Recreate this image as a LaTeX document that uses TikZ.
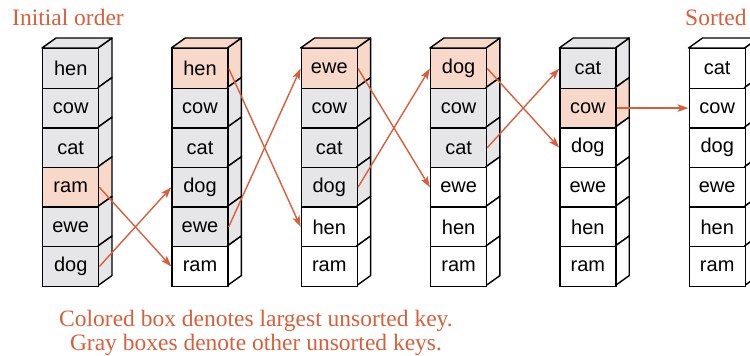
\documentclass[tikz,border=0pt]{standalone}
\usepackage{fontspec}
\setmainfont{Liberation Serif}
\newfontfamily\boxfont{Liberation Sans}
\usetikzlibrary{arrows.meta}
\definecolor{accent}{RGB}{217,95,59}
\definecolor{pinkfill}{RGB}{248,216,200}
\definecolor{grayfill}{RGB}{230,230,232}
\begin{document}
\begin{tikzpicture}[x=1pt,y=-1pt,
  keybox/.style={draw=black, line width=1.4pt, minimum width=56pt, minimum height=39.6pt,
    inner sep=0pt, font=\boxfont\fontsize{20}{20}\selectfont, anchor=north west},
  face/.style={draw=black, line width=1.4pt, line join=round},
  arr/.style={draw=accent, line width=1.4pt, -{Stealth[length=11pt,width=7.5pt,inset=2.5pt]}},
  caption/.style={text=accent, font=\fontsize{23.5}{27}\selectfont, inner sep=0pt}]
\useasboundingbox (0,0) rectangle (750,356);
\clip (0,0) rectangle (750,356);
% boxes
\foreach \c/\r/\t/\f in {
  1/0/hen/grayfill, 1/1/cow/grayfill, 1/2/cat/grayfill, 1/3/ram/pinkfill, 1/4/ewe/grayfill, 1/5/dog/grayfill,
  2/0/hen/pinkfill, 2/1/cow/grayfill, 2/2/cat/grayfill, 2/3/dog/grayfill, 2/4/ewe/grayfill, 2/5/ram/white,
  3/0/ewe/pinkfill, 3/1/cow/grayfill, 3/2/cat/grayfill, 3/3/dog/grayfill, 3/4/hen/white, 3/5/ram/white,
  4/0/dog/pinkfill, 4/1/cow/grayfill, 4/2/cat/grayfill, 4/3/ewe/white, 4/4/hen/white, 4/5/ram/white,
  5/0/cat/grayfill, 5/1/cow/pinkfill, 5/2/dog/white, 5/3/ewe/white, 5/4/hen/white, 5/5/ram/white,
  6/0/cat/white, 6/1/cow/white, 6/2/dog/white, 6/3/ewe/white, 6/4/hen/white, 6/5/ram/white}
{
  \pgfmathsetmacro\bx{42+129.3*(\c-1)}
  \pgfmathsetmacro\by{48+39.6*\r}
  % side face
  \filldraw[face, fill=\f] (\bx+56,\by) -- ++(14,-10) -- ++(0,39.6) -- (\bx+56,\by+39.6) -- cycle;
  % top face on first box
  \ifnum\r=0
    \filldraw[face, fill=\f] (\bx,\by) -- ++(14,-10) -- ++(56,0) -- (\bx+56,\by) -- cycle;
  \fi
  \node[keybox, fill=\f] (c\c r\r) at (\bx,\by) {\t};
}
% arrows
\draw[arr] (c1r3.east) -- (c2r5.west);
\draw[arr] (c1r5.east) -- (c2r3.west);
\draw[arr] (c2r0.east) -- (c3r4.west);
\draw[arr] (c2r4.east) -- (c3r0.west);
\draw[arr] (c3r0.east) -- (c4r3.west);
\draw[arr] (c3r3.east) -- (c4r0.west);
\draw[arr] (c4r0.east) -- (c5r2.west);
\draw[arr] (c4r2.east) -- (c5r0.west);
\draw[arr] (c5r1.east) -- (c6r1.west);
% captions
\node[caption, anchor=base west] (title) at (12,25) {Initial order};
\node[caption, anchor=base west] (sorted) at (685,25) {Sorted};
\node[caption, anchor=base] (note1) at (256,326) {Colored box denotes largest unsorted key.};
\node[caption, anchor=base] (note2) at (256,350) {Gray boxes denote other unsorted keys.};
\end{tikzpicture}
\end{document}
